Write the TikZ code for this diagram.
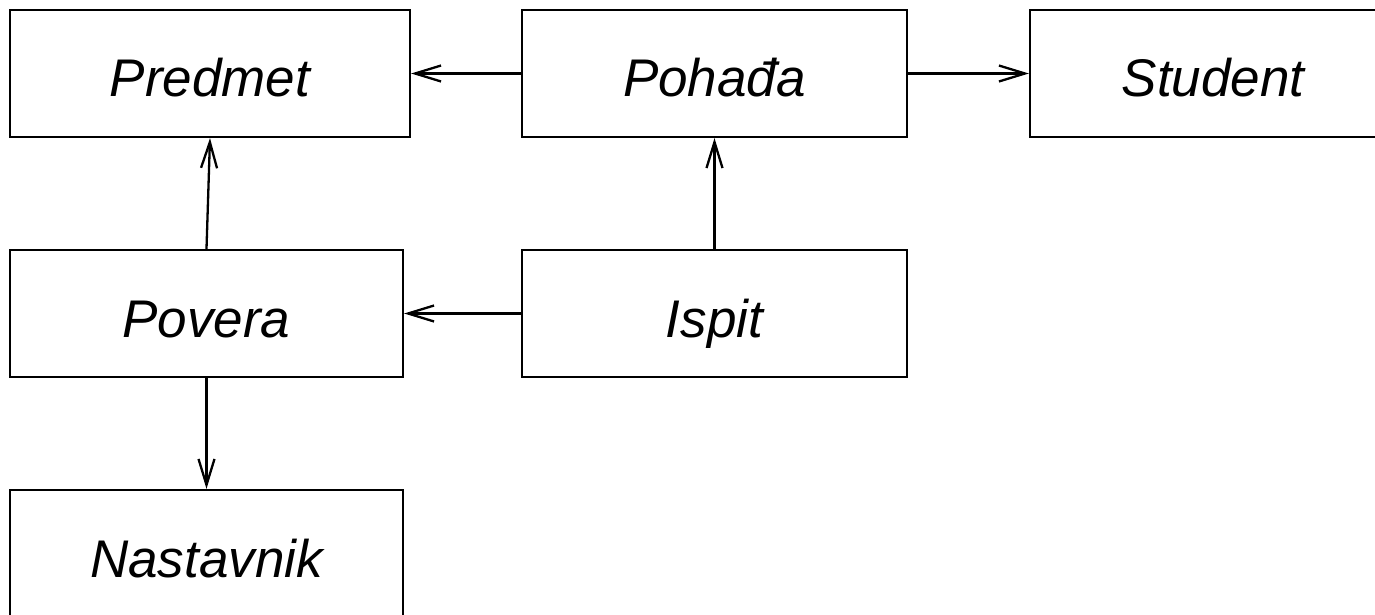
\documentclass[tikz,border=0pt]{standalone}
\usepackage{fontspec}
\setmainfont{Liberation Sans}
\usetikzlibrary{arrows.meta}
\begin{document}
\begin{tikzpicture}[x=1pt,y=-1pt,
  entity/.style={draw,line width=2.3pt,inner sep=0pt,minimum height=127pt,text height=58pt,text depth=11pt,font=\fontsize{53}{60}\selectfont\itshape},
  arr/.style={line width=2.3pt,-{Straight Barb[length=26pt,width=16pt,line width=2.3pt]}}]
\useasboundingbox (0,0) rectangle (1375,615);
\node[entity,minimum width=400pt] (predmet) at (210,73.5) {Predmet};
\node[entity,minimum width=385pt] (pohada) at (714.5,73.5) {Pohađa};
\node[entity,minimum width=366pt] (student) at (1213,73.5) {Student};
\node[entity,minimum width=393pt] (povera) at (206.5,313.5) {Povera};
\node[entity,minimum width=385pt] (ispit) at (714.5,313.5) {Ispit};
\node[entity,minimum width=393pt] (nastavnik) at (206.5,553.5) {Nastavnik};
\draw[arr] (pohada.west) -- (predmet.east);
\draw[arr] (pohada.east) -- (student.west);
\draw[arr] (povera.north) -- (predmet.south);
\draw[arr] (ispit.north) -- (pohada.south);
\draw[arr] (ispit.west) -- (povera.east);
\draw[arr] (povera.south) -- (nastavnik.north);
\end{tikzpicture}
\end{document}
